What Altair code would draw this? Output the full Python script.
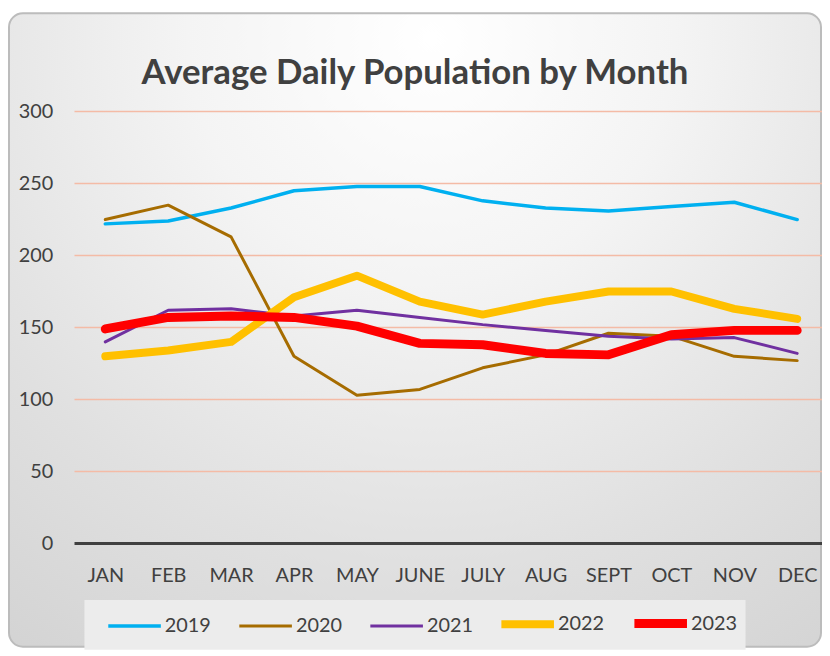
import altair as alt
import pandas as pd

months = ["JAN", "FEB", "MAR", "APR", "MAY", "JUNE", "JULY", "AUG", "SEPT", "OCT", "NOV", "DEC"]
years = ["2019", "2020", "2021", "2022", "2023"]
v2019 = [222, 224, 233, 245, 248, 248, 238, 233, 231, 234, 237, 225]
v2020 = [225, 235, 213, 130, 103, 107, 122, 131, 146, 144, 130, 127]
v2021 = [140, 162, 163, 158, 162, 157, 152, 148, 144, 142, 143, 132]
v2022 = [130, 134, 140, 171, 186, 168, 159, 168, 175, 175, 163, 156]
v2023 = [149, 157, 158, 157, 151, 139, 138, 132, 131, 145, 148, 148]
colors = ["#00b0f0", "#a66c00", "#7030a0", "#ffc000", "#ff0000"]
widths = [3.5, 3, 3, 8, 9]
y_ticks = [0, 50, 100, 150, 200, 250, 300]
title_text = "Average Daily Population by Month"

series = [v2019, v2020, v2021, v2022, v2023]
rows = []
for yr, vals in zip(years, series):
    for m, v in zip(months, vals):
        rows.append({"month": m, "year": yr, "value": v})
df = pd.DataFrame(rows)
grid_df = pd.DataFrame({"value": y_ticks[1:]})
zero_df = pd.DataFrame({"value": y_ticks[:1]})

FONT = "Lato"
TXT = "#404040"

x_scale = alt.Scale(type="point", domain=months, range=[31, 728], padding=0)
y_scale = alt.Scale(domain=[0, 300], nice=False)

bg = alt.Chart(pd.DataFrame({"a": [0]})).mark_rect(
    cornerRadius=14,
    stroke="#bcbcbc",
    strokeWidth=2,
    fill={
        "gradient": "radial",
        "x1": 0.52, "y1": 0.14, "r1": 0,
        "x2": 0.52, "y2": 0.14, "r2": 1,
        "stops": [
            {"offset": 0, "color": "#ffffff"},
            {"offset": 0.3, "color": "#f4f4f4"},
            {"offset": 0.65, "color": "#e0e0e0"},
            {"offset": 1, "color": "#cfcfcf"},
        ],
    },
).encode(
    x=alt.value(-66), x2=alt.value(752), y=alt.value(-99), y2=alt.value(539)
)

title = alt.Chart(pd.DataFrame({"t": [title_text]})).mark_text(
    font=FONT, fontSize=35, fontWeight="bold", color=TXT, align="center", baseline="alphabetic"
).encode(text="t:N", x=alt.value(343), y=alt.value(-28))

grid = alt.Chart(grid_df).mark_rule(color="#f4bba6", strokeWidth=1.5).encode(
    y=alt.Y("value:Q", scale=y_scale),
    x=alt.value(0),
    x2=alt.value(753),
)

zero = alt.Chart(zero_df).mark_rule(color=TXT, strokeWidth=3).encode(
    y=alt.Y("value:Q", scale=y_scale),
    x=alt.value(0),
    x2=alt.value(753),
)

leg = alt.Legend(
    title=None,
    orient="none",
    legendX=10,
    legendY=492,
    direction="horizontal",
    columns=5,
    symbolType="M-2.5,0H2.5",
    symbolSize=449,
    symbolOffset=27,
    labelFont=FONT,
    labelFontSize=20,
    labelColor=TXT,
    labelOffset=15,
    columnPadding=12,
    padding=8,
    fillColor="#ececec",
)

lines = alt.Chart(df).mark_line(strokeCap="round", strokeJoin="round").encode(
    x=alt.X(
        "month:N",
        sort=months,
        scale=x_scale,
        axis=alt.Axis(
            title=None,
            domain=False,
            ticks=False,
            grid=False,
            labelFont=FONT,
            labelFontSize=20,
            labelColor=TXT,
            labelPadding=22,
            labelAngle=0,
            zindex=1,
        ),
    ),
    y=alt.Y(
        "value:Q",
        scale=y_scale,
        axis=alt.Axis(
            title=None,
            values=y_ticks,
            domain=False,
            ticks=False,
            grid=False,
            labelFont=FONT,
            labelFontSize=20,
            labelColor=TXT,
            labelPadding=22,
            zindex=1,
        ),
    ),
    color=alt.Color("year:N", scale=alt.Scale(domain=years, range=colors), legend=leg),
    strokeWidth=alt.StrokeWidth(
        "year:N", scale=alt.Scale(type="ordinal", domain=years, range=widths), legend=leg
    ),
    order=alt.Order("year:N"),
    detail="year:N",
)

chart = alt.layer(bg, title, grid, lines, zero).properties(
    width=753,
    height=435,
    autosize=alt.AutoSizeParams(type="none"),
    padding={"left": 67, "top": 102, "right": 0, "bottom": 106},
).configure_view(strokeWidth=0)

chart.save("out.html", embed_options={"renderer": "svg", "actions": False})
